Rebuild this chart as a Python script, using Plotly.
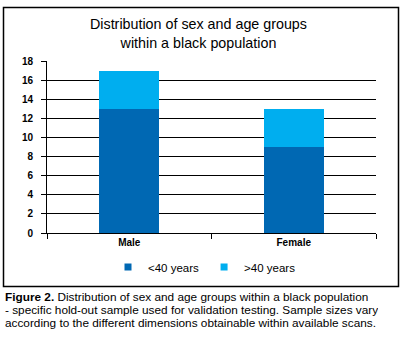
import plotly.graph_objects as go

categories = ["Male", "Female"]
under40 = [13, 9]
over40 = [4, 4]
series_names = ["<40 years", ">40 years"]
y_ticks = [0, 2, 4, 6, 8, 10, 12, 14, 16, 18]

W, H = 409, 340
DARK = "#0068B3"
LIGHT = "#00AEEF"
FONT = "Liberation Sans, Arial, sans-serif"

def px_x(x):
    return x / W

def px_y(y):
    return (H - y) / H

fig = go.Figure()
fig.add_trace(go.Bar(x=categories, y=under40, name=series_names[0],
                     marker=dict(color=DARK, line=dict(width=0)), showlegend=False))
fig.add_trace(go.Bar(x=categories, y=over40, name=series_names[1],
                     marker=dict(color=LIGHT, line=dict(width=0)), showlegend=False))
# legend-only entries with small square markers
fig.add_trace(go.Scatter(x=[None], y=[None], mode="markers", name=series_names[0],
                         marker=dict(symbol="square", size=7, color=DARK)))
fig.add_trace(go.Scatter(x=[None], y=[None], mode="markers", name=series_names[1],
                         marker=dict(symbol="square", size=7, color=LIGHT)))

fig.update_layout(
    width=W, height=H,
    margin=dict(l=0, r=0, t=0, b=0, autoexpand=False),
    paper_bgcolor="white", plot_bgcolor="white",
    barmode="stack", bargap=0.635,
    font=dict(family=FONT, color="black"),
    xaxis=dict(domain=[px_x(47), px_x(376)], showline=True, linecolor="black", linewidth=1,
               ticks="outside", ticklen=5, tickcolor="black", tickson="boundaries",
               tickfont=dict(size=10, weight="bold"), showgrid=False, fixedrange=True,
               automargin=False),
    yaxis=dict(domain=[px_y(233), px_y(61)], range=[0, 18], tickvals=y_ticks,
               showline=True, linecolor="black", linewidth=1,
               ticks="outside", ticklen=5, tickcolor="black", ticklabelstandoff=6,
               showgrid=True, gridcolor="black", gridwidth=1,
               tickfont=dict(size=10, weight="bold"), zeroline=False, fixedrange=True,
               automargin=False),
    legend=dict(orientation="h", x=0.5, xanchor="center", y=px_y(267), yanchor="middle",
                font=dict(size=11.5), bgcolor="rgba(0,0,0,0)", itemclick=False,
                traceorder="normal"),
    showlegend=True,
)

# title
fig.add_annotation(text="Distribution of sex and age groups<br>within a black population",
                   x=px_x(198), y=px_y(34), xref="paper", yref="paper",
                   xanchor="center", yanchor="middle", showarrow=False,
                   font=dict(size=14.3, family=FONT), align="center")

# caption
caption = [
    "<b>Figure 2.</b> Distribution of sex and age groups within a black population",
    "- specific hold-out sample used for validation testing. Sample sizes vary",
    "according to the different dimensions obtainable within available scans.",
]
for i, line in enumerate(caption):
    fig.add_annotation(text=line, x=px_x(3), y=px_y(297 + 13.2 * i), xref="paper", yref="paper",
                       xanchor="left", yanchor="middle", showarrow=False, height=12,
                       font=dict(size=11.8, family=FONT))

# outer box
fig.add_shape(type="rect", xref="paper", yref="paper",
              x0=px_x(3.5), x1=px_x(398.5), y0=px_y(286.5), y1=px_y(7.5),
              line=dict(color="black", width=1.5), fillcolor="rgba(0,0,0,0)")

fig.write_html("out.html", config={"displayModeBar": False, "staticPlot": True},
               post_script="document.body.style.margin='0';document.body.style.padding='0';")
